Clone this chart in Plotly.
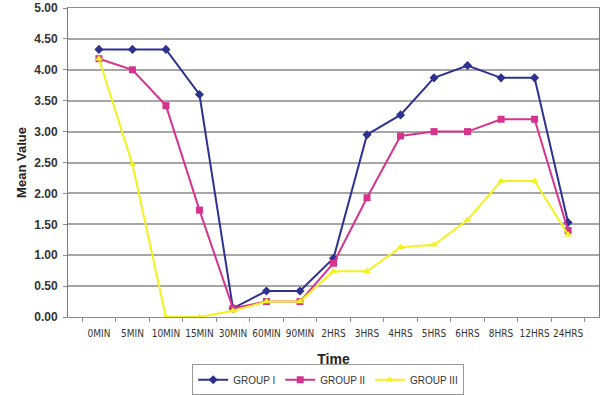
import plotly.graph_objects as go

# Time points (categories on the x axis)
time_points = ["0 MIN", "5 MIN", "10 MIN", "15 MIN", "30 MIN", "60 MIN", "90 MIN",
               "2 HRS", "3 HRS", "4 HRS", "5 HRS", "6 HRS", "8 HRS", "12 HRS", "24 HRS"]

# Mean values per group
group_1 = [4.33, 4.33, 4.33, 3.60, 0.14, 0.42, 0.42, 0.95, 2.95, 3.27, 3.87, 4.07, 3.87, 3.87, 1.53]
group_2 = [4.18, 4.00, 3.42, 1.73, 0.14, 0.25, 0.25, 0.87, 1.93, 2.93, 3.00, 3.00, 3.20, 3.20, 1.40]
group_3 = [4.18, 2.47, 0.00, 0.00, 0.10, 0.25, 0.25, 0.74, 0.74, 1.13, 1.17, 1.57, 2.20, 2.20, 1.33]

y_ticks = [0, 0.5, 1, 1.5, 2, 2.5, 3, 3.5, 4, 4.5, 5]
y_tick_text = [f"{v:.2f}" for v in y_ticks]

series = [
    ("GROUP I", group_1, "#2E3192", "diamond", 7),
    ("GROUP II", group_2, "#D6338E", "square", 7),
    ("GROUP III", group_3, "#F2F21E", "triangle-up", 7),
]

fig = go.Figure()
for name, values, color, symbol, size in series:
    fig.add_trace(go.Scatter(
        x=time_points, y=values, name=name, mode="lines+markers",
        line=dict(color=color, width=2),
        marker=dict(symbol=symbol, size=size, color=color),
    ))

fig.update_layout(
    width=607, height=395,
    margin=dict(l=68, r=8, t=8, b=78, autoexpand=False),
    paper_bgcolor="white", plot_bgcolor="white",
    font=dict(family="Arial, Liberation Sans, sans-serif", color="#333333"),
    showlegend=True,
    legend=dict(
        orientation="h", x=0.49, xanchor="center", y=-0.153, yanchor="top",
        bordercolor="#9a9a9a", borderwidth=1, bgcolor="white",
        font=dict(size=10, color="#333333"),
        itemwidth=30, tracegroupgap=0,
    ),
    xaxis=dict(
        type="category", categoryorder="array", categoryarray=time_points,
        tickvals=time_points, ticktext=[t.replace(" ", "") for t in time_points],
        tickangle=0, ticklabelstandoff=7, automargin=False,
        tickfont=dict(family="Liberation Sans Narrow, Arial Narrow, DejaVu Sans Condensed, sans-serif",
                      size=10, color="#333333"),
        ticks="outside", tickson="boundaries", ticklen=4, tickcolor="#8c8c8c",
        showline=True, linecolor="#8c8c8c", linewidth=1, mirror=True,
        showgrid=False, zeroline=False,
        title=dict(text="<b>Time</b>", font=dict(size=14, color="#222222"), standoff=16),
    ),
    yaxis=dict(
        range=[0, 5], tickvals=y_ticks, ticktext=y_tick_text,
        ticklabelstandoff=3, automargin=False,
        tickfont=dict(size=12, color="#333333", weight="bold"),
        ticks="outside", ticklen=4, tickcolor="#8c8c8c",
        showline=True, linecolor="#7a7a7a", linewidth=1, mirror=True,
        showgrid=True, gridcolor="#a6a6a6", gridwidth=1.5, zeroline=False,
        title=dict(text="<b>Mean Value</b>", font=dict(size=13, color="#222222"), standoff=4),
    ),
)

fig.write_html("out.html")
